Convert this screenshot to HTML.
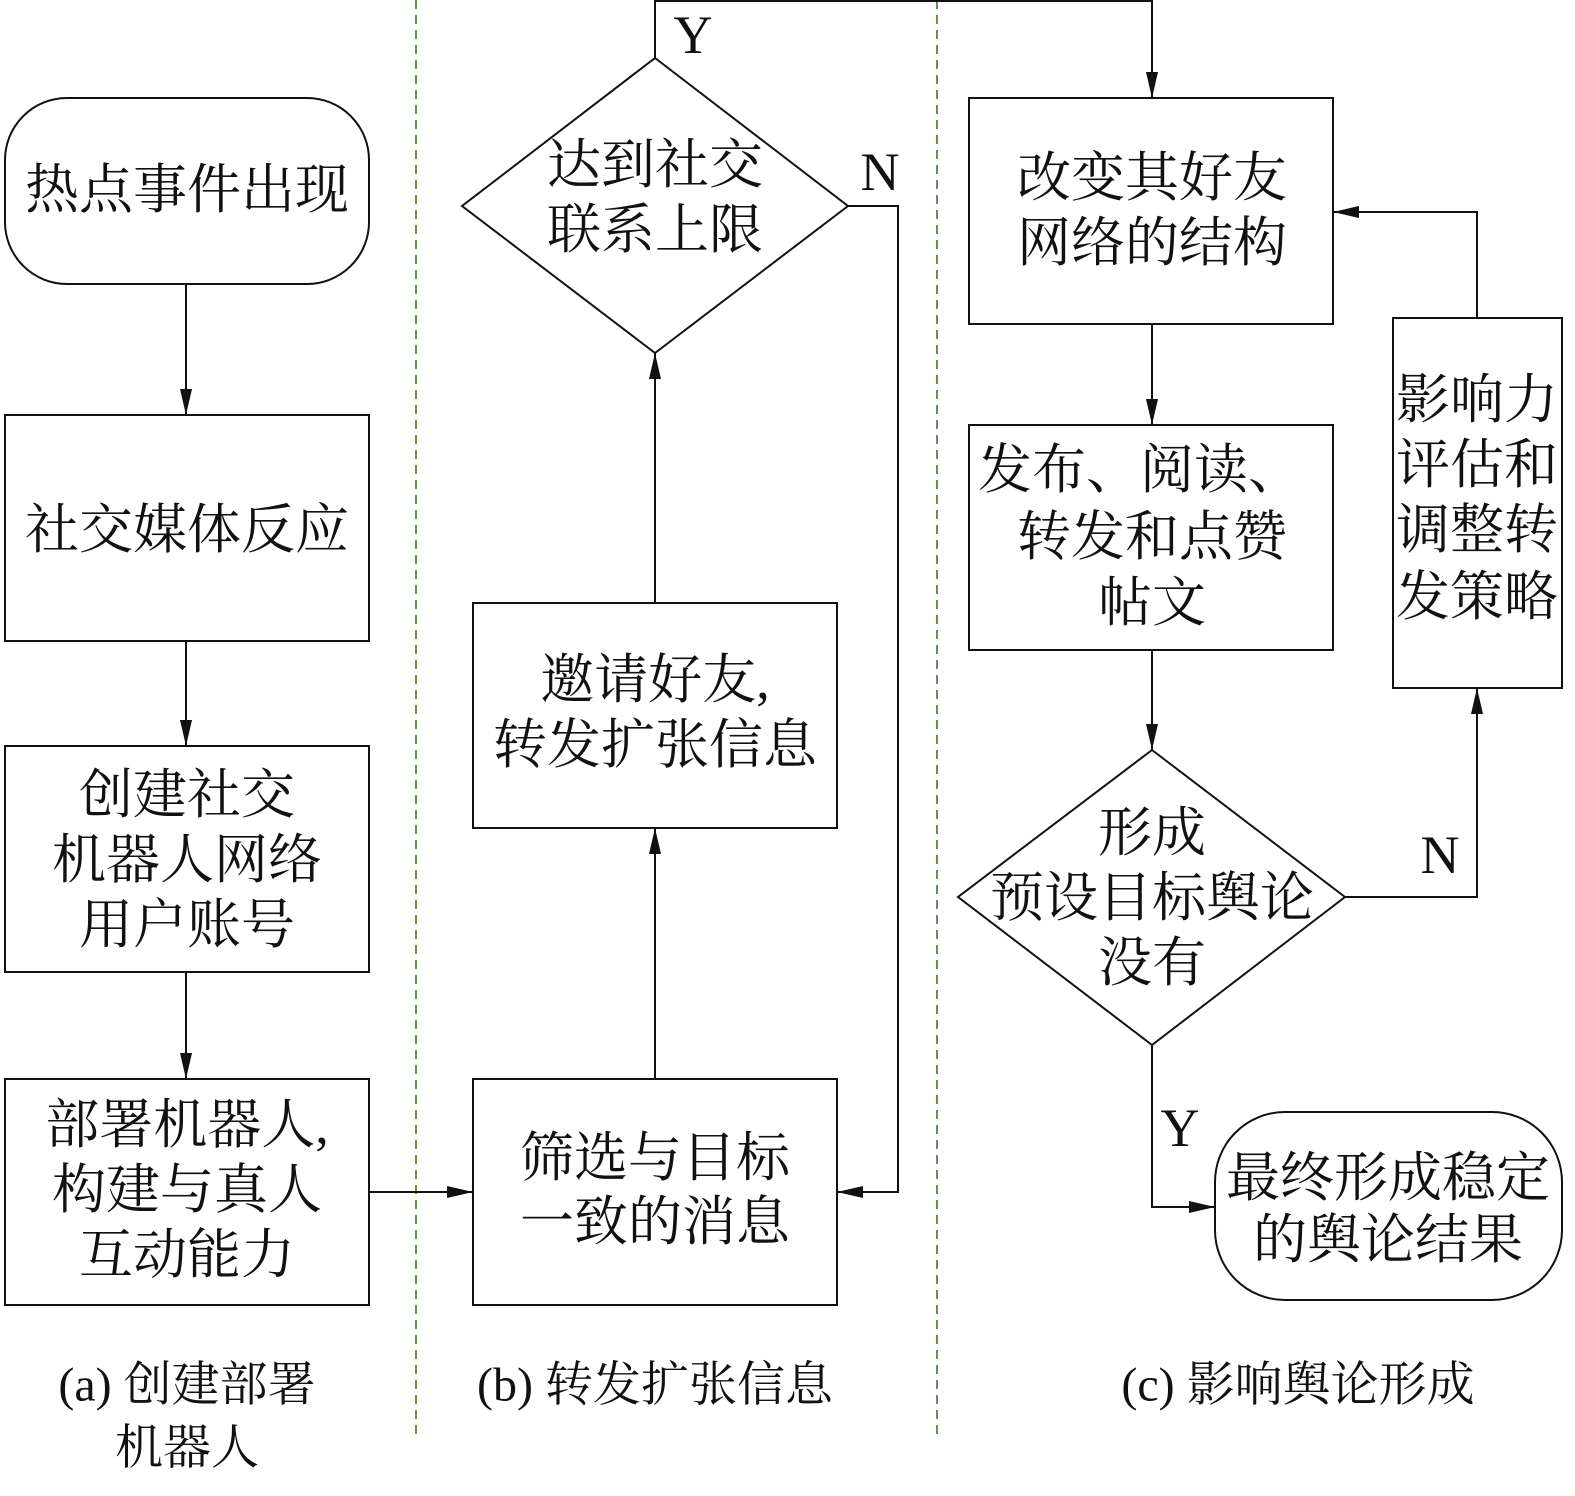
<!DOCTYPE html>
<html><head><meta charset="utf-8"><style>
html,body{margin:0;padding:0;background:#fff}
svg text{font-family:"Liberation Serif","Noto Serif CJK SC",serif;fill:#111;text-anchor:middle;dominant-baseline:central}
</style></head><body>
<svg width="1575" height="1491" viewBox="0 0 1575 1491" xmlns="http://www.w3.org/2000/svg">
<defs><marker id="a" markerWidth="26" markerHeight="12" refX="26" refY="6" orient="auto" markerUnits="userSpaceOnUse"><path d="M0,0 L26,6 L0,12 Z" fill="#111"/></marker></defs>
<g stroke="#5a9a3a" stroke-width="2" stroke-dasharray="9,6"><line x1="416" y1="0" x2="416" y2="1440"/><line x1="937" y1="0" x2="937" y2="1440"/></g>
<g fill="none" stroke="#111" stroke-width="2">
<rect x="5" y="98" width="364" height="186" rx="62"/>
<rect x="5" y="415" width="364" height="226"/>
<rect x="5" y="746" width="364" height="226"/>
<rect x="5" y="1079" width="364" height="226"/>
<rect x="473" y="1079" width="364" height="226"/>
<rect x="473" y="603" width="364" height="225"/>
<polygon points="655,58 848,206 655,353 462,206"/>
<rect x="969" y="98" width="364" height="226"/>
<rect x="969" y="425" width="364" height="225"/>
<polygon points="1152,750 1345,897 1152,1045 958,897"/>
<rect x="1393" y="318" width="169" height="370"/>
<rect x="1215" y="1112" width="347" height="188" rx="70"/>
</g>
<g fill="none" stroke="#111" stroke-width="2" marker-end="url(#a)">
<line x1="186" y1="284" x2="186" y2="415"/>
<line x1="186" y1="641" x2="186" y2="746"/>
<line x1="186" y1="972" x2="186" y2="1079"/>
<line x1="369" y1="1192" x2="473" y2="1192"/>
<line x1="655" y1="1079" x2="655" y2="828"/>
<line x1="655" y1="603" x2="655" y2="353"/>
<polyline points="848,206 898,206 898,1192 837,1192"/>
<polyline points="655,58 655,1 1152,1 1152,98"/>
<line x1="1152" y1="324" x2="1152" y2="425"/>
<line x1="1152" y1="650" x2="1152" y2="750"/>
<polyline points="1345,897 1477,897 1477,688"/>
<polyline points="1477,318 1477,212 1333,212"/>
<polyline points="1152,1045 1152,1207 1215,1207"/>
</g>
<g font-size="54">
<text x="187" y="190">热点事件出现</text>
<text x="187" y="530">社交媒体反应</text>
<text x="187" y="795">创建社交</text><text x="187" y="860">机器人网络</text><text x="187" y="925">用户账号</text>
<text x="187" y="1125">部署机器人,</text><text x="187" y="1190">构建与真人</text><text x="187" y="1255">互动能力</text>
<text x="655" y="1158">筛选与目标</text><text x="655" y="1222">一致的消息</text>
<text x="655" y="680">邀请好友,</text><text x="655" y="745">转发扩张信息</text>
<text x="655" y="165">达到社交</text><text x="655" y="230">联系上限</text>
<text x="1152" y="178">改变其好友</text><text x="1152" y="243">网络的结构</text>
<text x="1140" y="470">发布、阅读、</text><text x="1152" y="537">转发和点赞</text><text x="1152" y="603">帖文</text>
<text x="1152" y="833">形成</text><text x="1152" y="898">预设目标舆论</text><text x="1152" y="963">没有</text>
<text x="1477" y="400">影响力</text><text x="1477" y="465">评估和</text><text x="1477" y="530">调整转</text><text x="1477" y="597">发策略</text>
<text x="1388" y="1178">最终形成稳定</text><text x="1388" y="1240">的舆论结果</text>
<text x="693" y="35">Y</text><text x="880" y="172">N</text>
<text x="1440" y="855">N</text><text x="1180" y="1128">Y</text>
</g>
<g font-size="48">
<text x="187" y="1385">(a) 创建部署</text><text x="187" y="1448">机器人</text>
<text x="655" y="1385">(b) 转发扩张信息</text>
<text x="1298" y="1385">(c) 影响舆论形成</text>
</g>
</svg>
</body></html>
